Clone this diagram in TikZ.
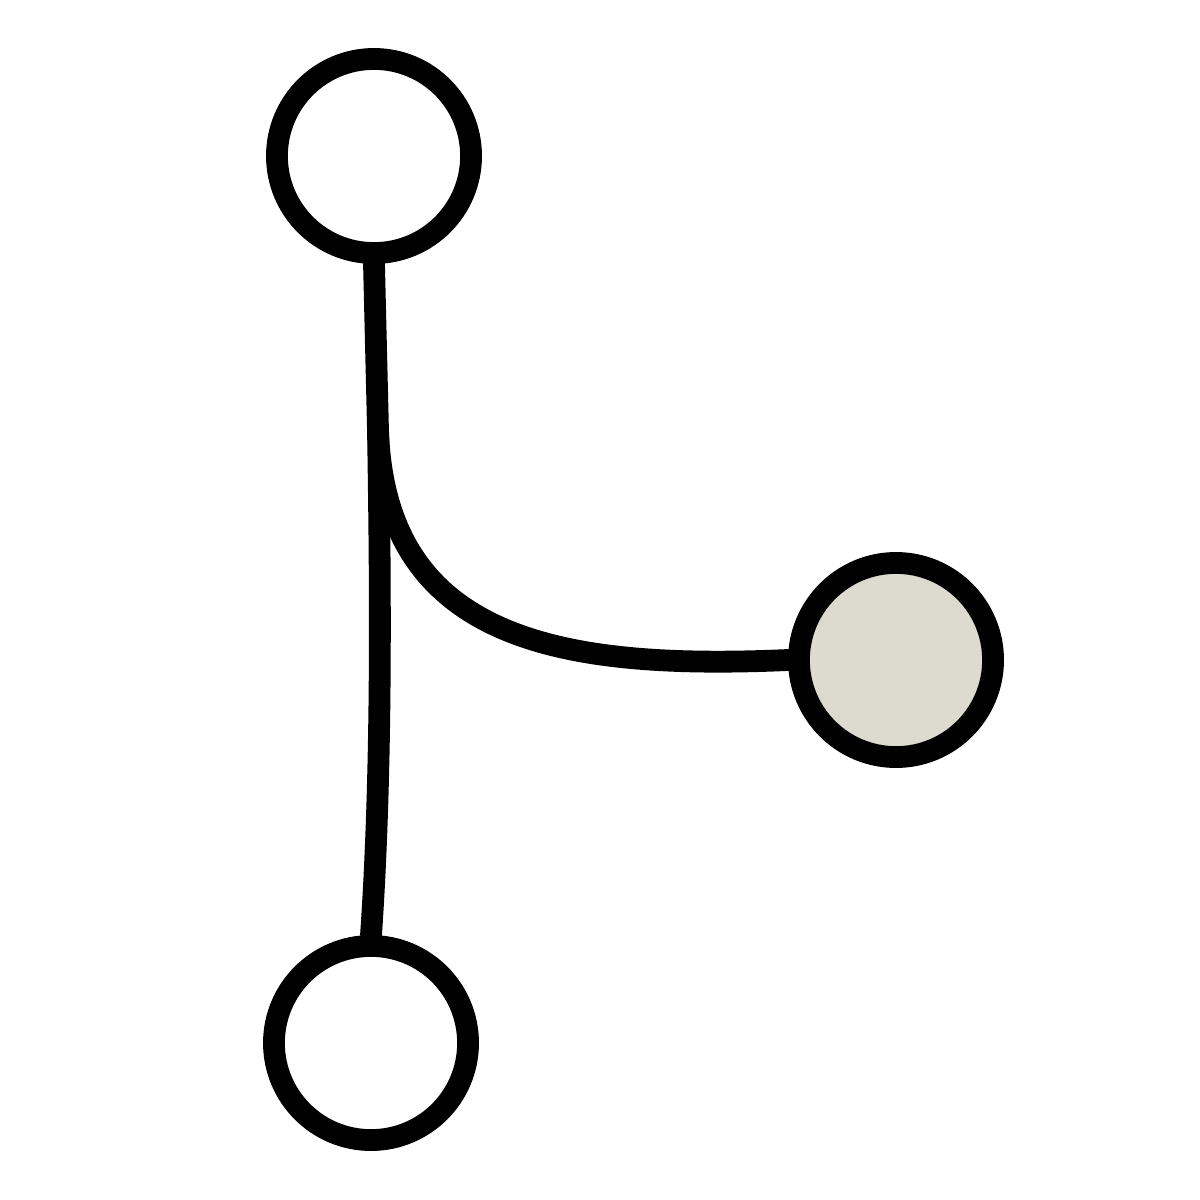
\documentclass[tikz,border=0pt]{standalone}
\usetikzlibrary{positioning}
\definecolor{stone}{HTML}{DDDAD0}
\tikzset{
    %Define style for commit circles
    commit/.style={
           circle,
           draw=black, line width=6.2pt,
           minimum size=1.94cm,
           inner sep=0pt,
           fill=white},
    tip/.style={
           commit,
           fill=stone},
    % Define branch line style
    pil/.style={
           line width=6.2pt,
           line cap=round}
}
\begin{document}
\begin{tikzpicture}[x=0.01cm,y=-0.01cm]
\useasboundingbox (0,0) rectangle (1200,1200);
\node[commit](1) at (374,156){};
\node[commit](2) at (371,1043){};
\node[tip](3) at (896,660){};
\coordinate (4) at (378,430);

\draw[pil] (1.south) -- (4) .. controls (380,560) and (383,760) .. (2.north);
\draw[pil] (4) .. controls (385,640) and (560,670) .. (3.west);
\end{tikzpicture}
\end{document}
